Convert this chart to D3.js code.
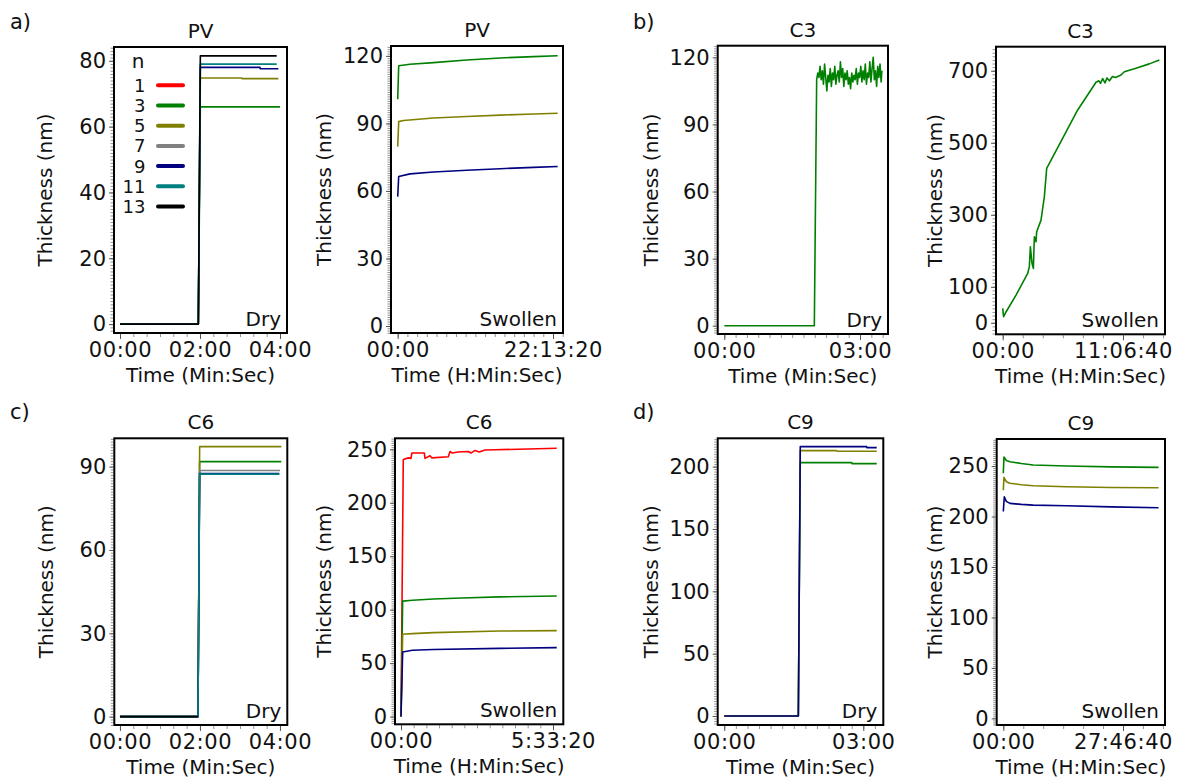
<!DOCTYPE html>
<html>
<head>
<meta charset="utf-8">
<script src="https://cdn.jsdelivr.net/npm/d3@7"></script>
<style>
  html, body { margin: 0; padding: 0; background: #fff; }
  svg { display: block; font-family: "DejaVu Sans", Verdana, sans-serif; }
</style>
</head>
<body>
<svg id="chart" width="1179" height="778"></svg>
<script>
// ---------- colours by number of layers n ----------
const legendN = [1, 3, 5, 7, 9, 11, 13];
const legendColors = ["#ff0000", "#008000", "#808000", "#808080", "#000080", "#008080", "#000000"];
const colorOf = n => legendColors[legendN.indexOf(n)];

// ---------- tick values and labels (time in seconds) ----------
const dry4Ticks = [0, 120, 240];
const dry4Labels = ["00:00", "02:00", "04:00"];
const dry3Ticks = [0, 180];
const dry3Labels = ["00:00", "03:00"];
const pvSwTicks = [0, 80000];
const pvSwLabels = ["00:00", "22:13:20"];
const c3SwTicks = [0, 40000];
const c3SwLabels = ["00:00", "11:06:40"];
const c6SwTicks = [0, 20000];
const c6SwLabels = ["00:00", "5:33:20"];
const c9SwTicks = [0, 100000];
const c9SwLabels = ["00:00", "27:46:40"];

const pvDryYTicks = [0, 20, 40, 60, 80];
const pvSwYTicks = [0, 30, 60, 90, 120];
const c3DryYTicks = [0, 30, 60, 90, 120];
const c3SwYTicks = [0, 100, 300, 500, 700];
const c6DryYTicks = [0, 30, 60, 90];
const c6SwYTicks = [0, 50, 100, 150, 200, 250];
const c9DryYTicks = [0, 50, 100, 150, 200];
const c9SwYTicks = [0, 50, 100, 150, 200, 250];

// ---------- PV : dry [t (s), thickness (nm)] ----------
const pvDryN3  = [[0, 0], [117.5, 0], [120.5, 66.0], [240, 66.0]];
const pvDryN5  = [[0, 0], [117.5, 0], [120.5, 74.8], [182.5, 74.8], [183, 74.6], [237.5, 74.6]];
const pvDryN9  = [[0, 0], [117.5, 0], [120.5, 78.0], [210, 78.0], [210.5, 77.6], [237.5, 77.6]];
const pvDryN11 = [[0, 0], [117.5, 0], [120.5, 79.0], [235, 79.0]];
const pvDryN13 = [[0, 0], [117.5, 0], [120.5, 81.5], [235, 81.5]];

// ---------- PV : swollen ----------
const pvSwN3 = [[0, 100.7], [516, 115.6], [6350, 116.3], [18400, 117.0], [35600, 118.2], [52800, 119.1], [70000, 119.7], [82400, 120.1]];
const pvSwN5 = [[0, 79.7], [516, 90.8], [3000, 91.3], [18400, 92.4], [35600, 93.1], [52800, 93.7], [70000, 94.2], [82400, 94.5]];
const pvSwN9 = [[0, 57.5], [516, 66.4], [6350, 67.6], [18400, 68.4], [35600, 69.2], [52800, 69.9], [70000, 70.5], [82400, 70.9]];

// ---------- C3 : dry ----------
const c3DryN3 = [
  [0, 0], [119.4, 0], [122.5, 110], [124, 113], [125.5, 111], [127, 116], [128.5, 110], [130, 114],
  [131.5, 108], [133, 117], [134.5, 111], [136, 105], [137.5, 112], [139, 109], [140.5, 115], [142, 107],
  [143.5, 113], [145, 110], [146.5, 116], [148, 108], [149.5, 112], [151, 114], [152.5, 109], [154, 118],
  [155.5, 111], [157, 115], [158.5, 107], [160, 113], [161.5, 110], [163, 114], [164.5, 108], [166, 111],
  [167.5, 106], [169, 113], [170.5, 109], [172, 112], [173.5, 110], [175, 115], [176.5, 108], [178, 113],
  [179.5, 111], [181, 116], [182.5, 109], [184, 114], [185.5, 110], [187, 117], [188.5, 108], [190, 113],
  [191.5, 111], [193, 118], [194.5, 109], [196, 115], [197.5, 120], [199, 110], [200.5, 114], [202, 107],
  [203.5, 116], [205, 111], [206.5, 117], [208, 109], [209, 114]
];

// ---------- C3 : swollen ----------
const c3SwN3 = [
  [0, 40], [300, 17], [1100, 30], [4430, 77], [8310, 137], [8870, 156], [9200, 211], [9750, 165],
  [10200, 151], [10530, 239], [11080, 225], [11300, 253], [12740, 285], [13850, 350], [14630, 429],
  [24940, 591], [31030, 668], [32000, 672], [32500, 665], [33250, 678], [34000, 666], [34700, 680],
  [35500, 672], [36500, 684], [37500, 681], [39340, 688], [40450, 697], [44330, 707], [48760, 719], [52090, 730]
];

// ---------- C6 : dry ----------
const c6DryN3  = [[0, 0], [117, 0], [119.5, 91.8], [242, 91.8]];
const c6DryN5  = [[0, 0], [117, 0], [119.5, 97.2], [242, 97.2]];
const c6DryN7  = [[0, 0], [117, 0], [119.5, 88.6], [240, 88.6]];
const c6DryN9  = [[0, 0], [117, 0], [119.5, 87.5], [239, 87.5]];
const c6DryN11 = [[0, 0], [117, 0], [119.5, 87.3], [239, 87.3]];
const c6DryN13 = [[0, 0], [117, 0]];

// ---------- C6 : swollen ----------
const c6SwN1 = [
  [0, 0], [300, 240.5], [960, 242], [1316, 241.5], [1420, 246.5], [3070, 246.5], [3160, 241.5],
  [3820, 244], [4040, 242], [6225, 243], [6450, 248], [6750, 246.5], [7500, 247.5], [8860, 248],
  [9200, 246.5], [9740, 249], [10300, 247.5], [11050, 249.3], [12370, 249.6], [16750, 250.3], [20490, 251]
];
const c6SwN3 = [[0, 0], [220, 108], [1500, 108.8], [4250, 110], [8000, 111], [13000, 112], [20490, 112.8]];
const c6SwN5 = [[0, 0], [220, 77], [1500, 77.6], [4250, 78.5], [13000, 80], [20490, 80.4]];
const c6SwN9 = [[0, 0], [220, 60.5], [1500, 62], [4250, 62.8], [13000, 63.8], [20490, 64.5]];

// ---------- C9 : dry ----------
const c9DryN3 = [[0, 0], [95.9, 0], [98.4, 203.2], [165, 203.2], [165.5, 202.4], [197.4, 202.4]];
const c9DryN5 = [[0, 0], [95.9, 0], [98.4, 212.8], [145.6, 212.8], [146, 212.3], [197.4, 212.3]];
const c9DryN9 = [[0, 0], [95.9, 0], [98.4, 216.0], [184.4, 216.0], [184.8, 215.2], [197.4, 215.2]];

// ---------- C9 : swollen ----------
const c9SwN3 = [[0, 242.8], [556, 259], [2500, 255.5], [5560, 254.3], [15000, 252.5], [25000, 251], [52800, 250], [90000, 249.2], [129700, 248.7]];
const c9SwN5 = [[0, 226], [556, 238.8], [2500, 234.5], [5560, 232.9], [15000, 231.5], [25000, 230.5], [52800, 229.5], [90000, 228.8], [129700, 228.5]];
const c9SwN9 = [[0, 205], [833, 219.6], [2500, 215], [5560, 213], [15000, 212], [25000, 211.3], [52800, 210.7], [90000, 209.5], [129700, 208.7]];

// ---------- panel layout ----------
const panels = [
  { id: "pvDry", title: "PV", tag: "Dry", frame: [114, 47, 287, 333], xDomain: [-9, 250.5], yDomain: [-2.7, 84.2],
    xTicks: dry4Ticks, xLabels: dry4Labels, xMinorStep: 20, yTicks: pvDryYTicks, yMinorStep: 1, yTitleX: 51.7,
    xTitle: "Time (Min:Sec)", series: [[3, pvDryN3], [5, pvDryN5], [9, pvDryN9], [11, pvDryN11], [13, pvDryN13]], legend: true },
  { id: "pvSw", title: "PV", tag: "Swollen", frame: [391, 46, 563, 333], xDomain: [-3450, 85150], yDomain: [-3.1, 124.4],
    xTicks: pvSwTicks, xLabels: pvSwLabels, xMinorStep: 5000, yTicks: pvSwYTicks, yMinorStep: 1, yTitleX: 330.7,
    xTitle: "Time (H:Min:Sec)", series: [[3, pvSwN3], [5, pvSwN5], [9, pvSwN9]] },
  { id: "c3Dry", title: "C3", tag: "Dry", frame: [717.7, 45.7, 888, 334], xDomain: [-8.75, 217.1], yDomain: [-3.7, 125.2],
    xTicks: dry3Ticks, xLabels: dry3Labels, xMinorStep: 15, yTicks: c3DryYTicks, yMinorStep: 1, yTitleX: 658.3,
    xTitle: "Time (Min:Sec)", series: [[3, c3DryN3]] },
  { id: "c3Sw", title: "C3", tag: "Swollen", frame: [996, 46.7, 1165, 334.3], xDomain: [-2228, 53970], yDomain: [-32, 766.7],
    xTicks: c3SwTicks, xLabels: c3SwLabels, xMinorStep: 40000 / 6, yTicks: c3SwYTicks, yMinorStep: 10, yTitleX: 941.7,
    xTitle: "Time (H:Min:Sec)", series: [[3, c3SwN3]] },
  { id: "c6Dry", title: "C6", tag: "Dry", frame: [114.3, 438.3, 287.3, 725], xDomain: [-8.5, 251], yDomain: [-3, 100.2],
    xTicks: dry4Ticks, xLabels: dry4Labels, xMinorStep: 20, yTicks: c6DryYTicks, yMinorStep: 1, yTitleX: 53,
    xTitle: "Time (Min:Sec)", series: [[3, c6DryN3], [5, c6DryN5], [7, c6DryN7], [9, c6DryN9], [11, c6DryN11], [13, c6DryN13]] },
  { id: "c6Sw", title: "C6", tag: "Swollen", frame: [395, 438.3, 563.3, 724.3], xDomain: [-790, 21355], yDomain: [-7.2, 260.3],
    xTicks: c6SwTicks, xLabels: c6SwLabels, xMinorStep: 20000 / 12, yTicks: c6SwYTicks, yMinorStep: 2, yTitleX: 330.7,
    xTitle: "Time (H:Min:Sec)", series: [[1, c6SwN1], [3, c6SwN3], [5, c6SwN5], [9, c6SwN9]] },
  { id: "c9Dry", title: "C9", tag: "Dry", frame: [717.7, 438.3, 883.3, 725], xDomain: [-8.5, 205.9], yDomain: [-7.2, 222.7],
    xTicks: dry3Ticks, xLabels: dry3Labels, xMinorStep: 15, yTicks: c9DryYTicks, yMinorStep: 2, yTitleX: 658.3,
    xTitle: "Time (Min:Sec)", series: [[3, c9DryN3], [5, c9DryN5], [9, c9DryN9]] },
  { id: "c9Sw", title: "C9", tag: "Swollen", frame: [996.7, 439, 1165, 725], xDomain: [-5514, 135090], yDomain: [-6.6, 276.8],
    xTicks: c9SwTicks, xLabels: c9SwLabels, xMinorStep: 100000 / 6, yTicks: c9SwYTicks, yMinorStep: 2, yTitleX: 941.7,
    xTitle: "Time (H:Min:Sec)", series: [[3, c9SwN3], [5, c9SwN5], [9, c9SwN9]] }
];

const panelLetters = ["a)", "b)", "c)", "d)"];
const letterPos = [[10, 28.5], [633, 28.5], [10, 418.5], [633, 418.5]];

const svg = d3.select("#chart");
const TICK_FONT = 21;
const LABEL_FONT = 20;

function drawPanel(p) {
  const [x0, y0, x1, y1] = p.frame;
  const x = d3.scaleLinear().domain(p.xDomain).range([x0, x1]);
  const y = d3.scaleLinear().domain(p.yDomain).range([y1, y0]);
  const g = svg.append("g").attr("class", "panel-" + p.id);

  const clipId = "clip-" + p.id;
  svg.append("clipPath").attr("id", clipId)
    .append("rect").attr("x", x0).attr("y", y0).attr("width", x1 - x0).attr("height", y1 - y0);

  // dense minor ticks along the y axis
  const yMinor = d3.range(Math.ceil(p.yDomain[0] / p.yMinorStep) * p.yMinorStep, p.yDomain[1], p.yMinorStep);
  const yMinorAxis = g.append("g").attr("transform", `translate(${x0 - 1},0)`)
    .call(d3.axisLeft(y).tickValues(yMinor).tickSize(2.5).tickFormat(""));
  yMinorAxis.select(".domain").remove();
  yMinorAxis.selectAll("line").attr("stroke", "#777").attr("stroke-width", 0.8);

  // major y ticks + labels
  const yAxis = g.append("g").attr("transform", `translate(${x0 - 1},0)`)
    .call(d3.axisLeft(y).tickValues(p.yTicks).tickSize(4).tickPadding(3));
  yAxis.select(".domain").remove();
  yAxis.selectAll("line").attr("stroke", "#555");
  yAxis.selectAll("text").attr("font-size", TICK_FONT).attr("font-family", "DejaVu Sans, Verdana, sans-serif")
    .attr("fill", "#111");

  // minor x ticks
  const xMinor = d3.range(0, p.xDomain[1], p.xMinorStep);
  const xMinorAxis = g.append("g").attr("transform", `translate(0,${y1 + 1})`)
    .call(d3.axisBottom(x).tickValues(xMinor).tickSize(3).tickFormat(""));
  xMinorAxis.select(".domain").remove();
  xMinorAxis.selectAll("line").attr("stroke", "#777").attr("stroke-width", 0.8);

  // major x ticks + labels
  const xAxis = g.append("g").attr("transform", `translate(0,${y1 + 1})`)
    .call(d3.axisBottom(x).tickValues(p.xTicks).tickSize(5).tickFormat((d, i) => p.xLabels[i]));
  xAxis.select(".domain").remove();
  xAxis.selectAll("line").attr("stroke", "#555");
  xAxis.selectAll("text").attr("dy", null).attr("y", 23)
    .attr("font-size", TICK_FONT).attr("letter-spacing", "0.6px")
    .attr("font-family", "DejaVu Sans, Verdana, sans-serif").attr("fill", "#111");

  // data lines
  const line = d3.line().x(d => x(d[0])).y(d => y(d[1]));
  const lines = g.append("g").attr("clip-path", `url(#${clipId})`);
  p.series.forEach(([n, pts]) => {
    lines.append("path").datum(pts).attr("d", line)
      .attr("fill", "none").attr("stroke", colorOf(n)).attr("stroke-width", 1.6)
      .attr("stroke-linejoin", "round");
  });

  // frame
  g.append("rect").attr("x", x0).attr("y", y0).attr("width", x1 - x0).attr("height", y1 - y0)
    .attr("fill", "none").attr("stroke", "#000").attr("stroke-width", 2);

  // titles
  const cx = (x0 + x1) / 2;
  g.append("text").attr("x", cx).attr("y", y0 - 9).attr("text-anchor", "middle")
    .attr("font-size", LABEL_FONT).attr("fill", "#111").text(p.title);
  g.append("text").attr("x", x1 - 6).attr("y", y1 - 7).attr("text-anchor", "end")
    .attr("font-size", LABEL_FONT).attr("fill", "#111").text(p.tag);
  g.append("text").attr("x", cx).attr("y", y1 + 49).attr("text-anchor", "middle")
    .attr("font-size", LABEL_FONT).attr("fill", "#111").text(p.xTitle);
  g.append("text").attr("transform", `translate(${p.yTitleX},${(y0 + y1) / 2}) rotate(-90)`)
    .attr("text-anchor", "middle").attr("font-size", LABEL_FONT).attr("fill", "#111").text("Thickness (nm)");

  if (p.legend) drawLegend(g);
}

function drawLegend(g) {
  const lg = g.append("g");
  lg.append("text").attr("x", 138).attr("y", 68).attr("text-anchor", "middle")
    .attr("font-size", LABEL_FONT).attr("fill", "#111").text("n");
  legendN.forEach((n, i) => {
    const cy = 85.3 + i * 20.2;
    lg.append("text").attr("x", 145.5).attr("y", cy).attr("dy", "0.36em").attr("text-anchor", "end")
      .attr("font-size", 18).attr("fill", "#111").text(n);
    lg.append("line").attr("x1", 158).attr("x2", 183).attr("y1", cy).attr("y2", cy)
      .attr("stroke", legendColors[i]).attr("stroke-width", 4).attr("stroke-linecap", "round");
  });
}

panels.forEach(drawPanel);

panelLetters.forEach((t, i) => {
  svg.append("text").attr("x", letterPos[i][0]).attr("y", letterPos[i][1])
    .attr("font-size", 21).attr("fill", "#111").text(t);
});
</script>
</body>
</html>
